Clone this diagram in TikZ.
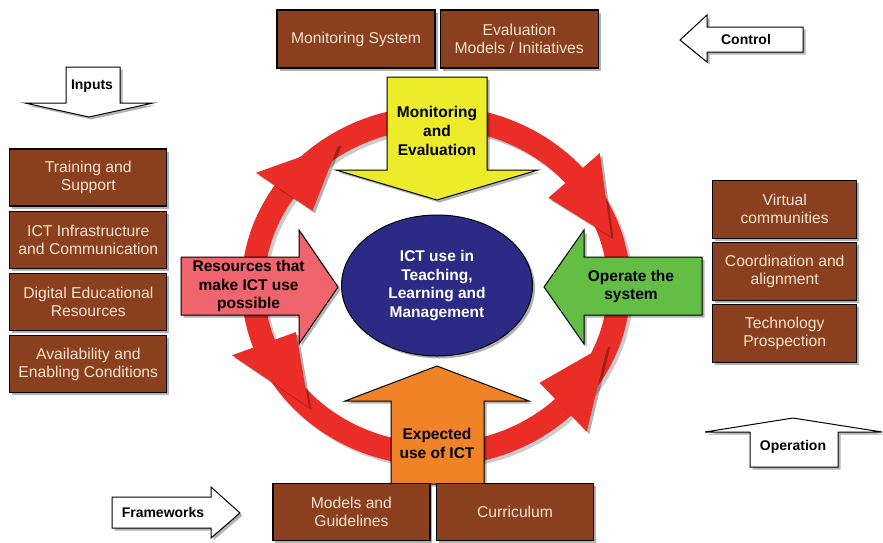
\documentclass[tikz,border=0pt]{standalone}
\usepackage{fontspec}
\setmainfont{Liberation Sans}
\usetikzlibrary{positioning, shapes.geometric, shadows}
\definecolor{brick}{HTML}{8A401E}
\definecolor{cream}{HTML}{F5E3CF}
\definecolor{lemon}{HTML}{ECEC2A}
\definecolor{tangerine}{HTML}{F08228}
\definecolor{salmon}{HTML}{F0646E}
\definecolor{leaf}{HTML}{64BE46}
\definecolor{ink}{HTML}{2B2B85}
\definecolor{ringred}{HTML}{EB2D28}

\begin{document}
\begin{tikzpicture}[
    x=1pt, y=-1pt,
    softshadow/.style={drop shadow={shadow xshift=2.5pt, shadow yshift=-2.5pt,
                       fill=black, opacity=.3}},
    box/.style={draw=black, line width=1.2pt, fill=brick, text=cream, align=center,
                minimum width=157pt, minimum height=57pt, inner sep=2pt,
                font=\fontsize{15.7}{18.3}\selectfont, softshadow},
    blockarrow/.style={draw=black, line width=1pt, line join=miter, softshadow},
    armtext/.style={align=center, font=\bfseries\fontsize{15.5}{18.6}\selectfont},
    flagtext/.style={font=\bfseries\fontsize{14}{16}\selectfont},
  ]
  \useasboundingbox (0,0) rectangle (883,542);

  % ring with its heads
  \draw[black, opacity=.2, line width=23pt] (439,289) ellipse [x radius=183pt, y radius=168.5pt];
  \draw[ringred, line width=23pt] (436,286) ellipse [x radius=183pt, y radius=168.5pt];
  \foreach \a/\b in {146/122, 41/17, 200/226, -46/-20}
    \fill[ringred, softshadow] ({436+217*cos(\a)}, {286-202.5*sin(\a)})
      -- ({436+183*cos(\b)}, {286-168.5*sin(\b)})
      -- ({436+149*cos(\a)}, {286-134.5*sin(\a)}) -- cycle;

  % the four arms
  \path[blockarrow, fill=lemon] (387,77) -- (487,77) -- (487,170) -- (538,170)
    -- (437,200) -- (336,170) -- (387,170) -- cycle;
  \path[blockarrow, fill=tangerine] (437,366) -- (529,401) -- (484,401) -- (484,484)
    -- (391,484) -- (391,401) -- (345,401) -- cycle;
  \path[blockarrow, fill=salmon] (181,257) -- (299,257) -- (299,230) -- (338,287)
    -- (299,344) -- (299,315) -- (181,315) -- cycle;
  \path[blockarrow, fill=leaf] (544,287) -- (584,230) -- (584,257) -- (702,257)
    -- (702,315) -- (584,315) -- (584,344) -- cycle;

  \node[armtext] (moneval) at (437,131) {Monitoring\\and\\Evaluation};
  \node[armtext] (expuse) at (437,443.5) {Expected\\use of ICT};
  \node[armtext] (resources) at (248.6,286) {Resources that\\make ICT use\\possible};
  \node[armtext] (operate) at (631,286.5) {Operate the\\system};

  \node[ellipse, draw=black, line width=1pt, fill=ink, text=white, armtext,
        minimum width=191pt, minimum height=141pt, softshadow]
    (ictuse) at (437,285.5) {ICT use in\\Teaching,\\Learning and\\Management};

  % boxes
  \node[box, minimum width=158pt, minimum height=58pt] (msys) at (356,39) {Monitoring System};
  \node[box, minimum width=158pt, minimum height=58pt, right=4pt of msys] (evmod)
    {Evaluation\\Models / Initiatives};

  \node[box] (train) at (88.3,177.5) {Training and\\Support};
  \node[box, below=4pt of train] (infra) {ICT Infrastructure\\and Communication};
  \node[box, below=4pt of infra] (digres) {Digital Educational\\Resources};
  \node[box, below=4pt of digres] (avail) {Availability and\\Enabling Conditions};

  \node[box, minimum width=144pt, minimum height=58pt] (virt) at (784.7,209.2)
    {Virtual\\communities};
  \node[box, minimum width=144pt, minimum height=58pt, below=3pt of virt] (coord)
    {Coordination and\\alignment};
  \node[box, minimum width=144pt, minimum height=58pt, below=3pt of coord] (techpro)
    {Technology\\Prospection};

  \node[box] (modgui) at (351.4,511.7) {Models and\\Guidelines};
  \node[box, right=5.5pt of modgui] (curr) {Curriculum};

  % white pointers
  \path[blockarrow, fill=white] (66,67) -- (120,67) -- (120,103) -- (153,103)
    -- (89,117) -- (25,103) -- (66,103) -- cycle;
  \path[blockarrow, fill=white] (680,40) -- (707,15) -- (707,27) -- (803,27)
    -- (803,52) -- (707,52) -- (707,62) -- cycle;
  \path[blockarrow, fill=white] (793,418) -- (882,432) -- (838,432) -- (838,467)
    -- (750,467) -- (750,432) -- (705,432) -- cycle;
  \path[blockarrow, fill=white] (112,497) -- (211,497) -- (211,487) -- (240,513)
    -- (211,538) -- (211,528) -- (112,528) -- cycle;

  \node[flagtext] (inputs) at (92,86) {Inputs};
  \node[flagtext] (control) at (746,39.5) {Control};
  \node[flagtext] (operation) at (793,447) {Operation};
  \node[flagtext] (frameworks) at (163,512) {Frameworks};
\end{tikzpicture}
\end{document}
